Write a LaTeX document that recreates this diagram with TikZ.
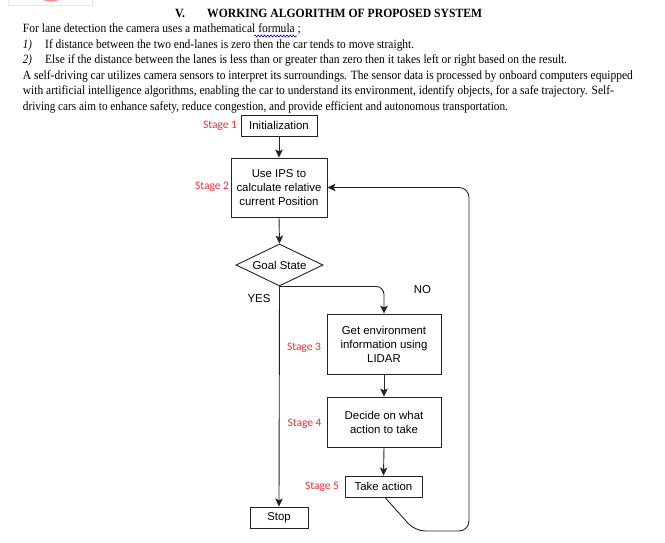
\documentclass[tikz,border=0pt]{standalone}
\usepackage{fontspec}
\usepackage{graphicx}
\setmainfont{Liberation Serif}
\newfontfamily\arialf{Liberation Sans}
\newfontfamily\calf{Carlito}
\usetikzlibrary{shapes.geometric,arrows.meta,decorations.pathmorphing}
\newbox\fitbox
\newcommand\fitw[2]{\setbox\fitbox\hbox{#2}\pgfmathsetmacro\fsx{#1/(\the\wd\fitbox)}\scalebox{\fsx}[1]{\copy\fitbox}}
\definecolor{stagered}{RGB}{232,50,50}
\definecolor{lnk}{RGB}{35,35,35}
\tikzset{
  body/.style={anchor=base west, inner sep=0pt, font=\fontsize{12.6}{14}\selectfont},
  box/.style={draw=lnk, line width=0.9pt, rectangle, inner sep=0pt, align=center,
    font=\arialf\fontsize{11.4}{14}\selectfont},
  stage/.style={text=stagered, inner sep=0pt, font=\calf\fontsize{11.5}{13}\selectfont},
  lbl/.style={inner sep=0pt, font=\arialf\fontsize{11.4}{14}\selectfont},
  arr/.style={draw=lnk, line width=0.9pt, -{Stealth[length=8pt,width=7.5pt,inset=1.8pt]}},
}
\begin{document}
\begin{tikzpicture}[x=1pt,y=-1pt]
\useasboundingbox (0,0) rectangle (665,543);
% cut-off logo remnant
\draw[black!10, line width=0.6pt] (8,0) -- (8,5) -- (92,5) -- (92,0);
\fill[red!45!white] (43,0) .. controls (47,2.2) and (55,2.2) .. (59,0) -- cycle;
% header text
\node[body, font=\bfseries\fontsize{12.6}{14}\selectfont] (tv) at (175,17.5) {\fitw{10}{V.}};
\node[body, font=\bfseries\fontsize{12.6}{14}\selectfont] (title) at (207,17.5) {\fitw{275}{WORKING ALGORITHM OF PROPOSED SYSTEM}};
\node[body] (l1) at (22.7,33) {\fitw{278}{For lane detection the camera uses a mathematical formula ;}};
\draw[blue!80!black, line width=0.55pt, decorate, decoration={snake, amplitude=1pt, segment length=3.2pt}] (254,36) -- (297,36);
\node[body] (n1) at (22.7,49) {\fitw{9}{\itshape 1)}};
\node[body] (l2) at (45,49) {\fitw{369}{If distance between the two end-lanes is zero then the car tends to move straight.}};
\node[body] (n2) at (22.7,64) {\fitw{9}{\itshape 2)}};
\node[body] (l3) at (45,64) {\fitw{522}{Else if the distance between the lanes is less than or greater than zero then it takes left or right based on the result.}};
\node[body] (l4) at (22.7,79.5) {\fitw{610}{A self-driving car utilizes camera sensors to interpret its surroundings. The sensor data is processed by onboard computers equipped}};
\node[body] (l5) at (22.7,95) {\fitw{591}{with artificial intelligence algorithms, enabling the car to understand its environment, identify objects, for a safe trajectory. Self-}};
\node[body] (l6) at (22.7,111) {\fitw{485}{driving cars aim to enhance safety, reduce congestion, and provide efficient and autonomous transportation.}};
% flowchart
\node[box, minimum width=76pt, minimum height=21pt] (init) at (279,125.5) {Initialization};
\node[box, minimum width=96pt, minimum height=59pt] (s2) at (279,187.5) {Use IPS to\\calculate relative\\current Position};
\node[draw=lnk, line width=0.9pt, diamond, aspect=2.07, inner sep=0pt, minimum width=87pt, minimum height=42pt,
  font=\arialf\fontsize{11.4}{14}\selectfont] (goal) at (279.5,265) {Goal State};
\node[box, minimum width=114pt, minimum height=60pt] (s3) at (384,344) {Get environment\\information using\\LIDAR};
\node[box, minimum width=114pt, minimum height=50pt] (s4) at (384,422) {Decide on what\\action to take};
\node[box, minimum width=77pt, minimum height=21pt] (s5) at (383.5,486.5) {Take action};
\node[box, minimum width=58pt, minimum height=21pt] (stop) at (279,517.5) {Stop};
% stage labels
\node[stage] (st1) at (220,126) {Stage 1};
\node[stage] (st2) at (212,187) {Stage 2};
\node[stage] (st3) at (304,348) {Stage 3};
\node[stage] (st4) at (304.5,424) {Stage 4};
\node[stage] (st5) at (322,487) {Stage 5};
\node[lbl] (yes) at (259,299) {YES};
\node[lbl] (no) at (422.5,290) {NO};
% connectors
\draw[arr] (init.south) -- (s2.north);
\draw[arr] (s2.south) -- (goal.north);
\draw[arr] (goal.south) -- (stop.north);
\draw[arr, rounded corners=8pt] (goal.south) -| (s3.north);
\draw[arr] (s3.south) -- (s4.north);
\draw[arr] (s4.south) -- (s5.north);
\coordinate (c1) at (415,531);
\coordinate (c2) at (469,531);
\coordinate (c3) at (469,187.5);
\draw[arr, rounded corners=10pt] ([xshift=1.5pt]s5.south) -- (c1) -- (c2) -- (c3) -- (s2.east);
\end{tikzpicture}
\end{document}
